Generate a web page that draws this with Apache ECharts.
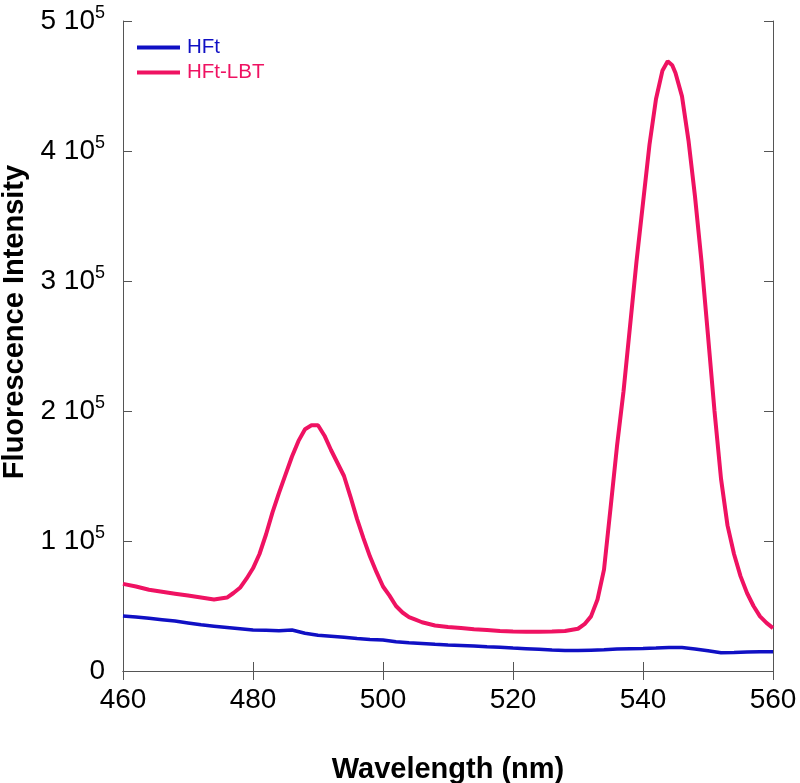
<!DOCTYPE html>
<html>
<head>
<meta charset="utf-8">
<script src="https://cdn.jsdelivr.net/npm/echarts@6/dist/echarts.min.js"></script>
<style>html,body{margin:0;padding:0;background:#fff;}#c{width:800px;height:783px;}</style>
</head>
<body>
<div id="c"></div>
<script>
const seriesNames = ['HFt', 'HFt-LBT'];
const xTicks = [460, 480, 500, 520, 540, 560];
const yTicks = [0, 100000, 200000, 300000, 400000, 500000];

const wlHFt = [460,462,464,466,468,470,472,474,476,478,480,482,484,486,488,490,492,494,496,498,500,502,504,506,508,510,512,514,516,518,520,522,524,526,528,530,532,534,536,538,540,542,544,546,548,550,552,554,556,558,560];
const valHFt = [42300,41500,40500,39500,38500,37000,35500,34500,33500,32500,31500,31300,31000,31500,29000,27500,26800,26000,25000,24300,23800,22500,21800,21200,20500,20000,19600,19200,18600,18200,17600,17200,16800,16200,15800,15700,16000,16300,17000,17200,17300,17600,18000,18000,17000,15500,14000,14300,14700,14800,14900];

const wlLBT = [460,462,464,466,468,470,472,474,476,477,478,479,480,481,482,483,484,485,486,487,488,489,490,491,492,493,494,495,496,497,498,499,500,501,502,503,504,505,506,508,510,512,514,516,518,520,522,524,526,528,530,531,532,533,534,535,536,537,538,539,540,541,542,543,543.8,544.5,545,546,547,548,549,550,551,552,553,554,555,556,557,558,559,560];
const valLBT = [67000,65000,62500,61000,59500,58000,56500,55000,56500,60000,64000,71000,79000,90000,105000,122000,137000,151000,165000,177000,186000,189000,189000,181000,170000,160000,150000,134000,117000,102000,88000,76000,65000,58000,50000,45000,41500,39500,37500,35000,33800,33000,32200,31500,30800,30300,30200,30200,30300,30800,32500,36000,42000,55000,78000,125000,173000,215000,265000,315000,360000,405000,440000,462000,469000,466000,460000,442000,408000,365000,315000,258000,200000,148000,112000,90000,73000,60000,50000,42000,37000,33000];

const colors = ['#1010c4', '#ef1262'];

function pairs(xs, ys) { return xs.map((x, i) => [x, ys[i]]); }

const chart = echarts.init(document.getElementById('c'), null, {renderer: 'canvas'});
const font = '"Liberation Sans", Arial, sans-serif';
const axisLine = {show: true, lineStyle: {color: '#555', width: 1}};
const tick = {show: true, inside: true, length: 9, lineStyle: {color: '#555', width: 1}};

chart.setOption({
  animation: false,
  backgroundColor: '#fff',
  grid: {left: 123, right: 27, top: 21, bottom: 112, containLabel: false, outerBoundsMode: 'none'},
  legend: {
    orient: 'vertical', left: 137, top: 37, padding: 0,
    itemWidth: 43, itemHeight: 4, itemGap: 4,
    icon: 'rect',
    textStyle: {fontFamily: font, fontSize: 20.5, padding: [0,0,0,2]},
    data: seriesNames.map((n, i) => ({name: n, textStyle: {color: colors[i]}}))
  },
  xAxis: [{
    type: 'value', min: xTicks[0], max: xTicks[xTicks.length - 1], interval: 20,
    axisLine, axisTick: tick, splitLine: {show: false},
    axisLabel: {fontFamily: font, fontSize: 28, color: '#000', margin: 15},
    name: 'Wavelength (nm)', nameLocation: 'middle', nameGap: 84,
    nameTextStyle: {fontFamily: font, fontSize: 29, fontWeight: 'bold', color: '#000'}
  }, {
    type: 'value', position: 'top', min: xTicks[0], max: xTicks[xTicks.length - 1], interval: 20,
    axisLine, axisTick: tick, axisLabel: {show: false}, splitLine: {show: false}
  }],
  yAxis: [{
    type: 'value', min: yTicks[0], max: yTicks[yTicks.length - 1], interval: 100000,
    axisLine, axisTick: tick, splitLine: {show: false},
    axisLabel: {
      margin: 18, color: '#000',
      formatter: v => v === 0 ? '{a|0}' : '{a|' + (v / 100000) + ' 10}{s|5}',
      rich: {
        a: {fontFamily: font, fontSize: 28, color: '#000'},
        s: {fontFamily: font, fontSize: 18, color: '#000', verticalAlign: 'bottom', padding: [0, 0, 16, 0]}
      }
    }
  }, {
    type: 'value', position: 'right', min: yTicks[0], max: yTicks[yTicks.length - 1], interval: 100000,
    axisLine, axisTick: tick, axisLabel: {show: false}, splitLine: {show: false}
  }],
  graphic: [{
    type: 'text', x: 15, y: 322, rotation: Math.PI / 2,
    style: {text: 'Fluorescence Intensity', font: 'bold 29px "Liberation Sans", Arial, sans-serif', fill: '#000', align: 'center', verticalAlign: 'middle'}
  }],
  series: [{
    name: seriesNames[0], type: 'line', symbol: 'none', data: pairs(wlHFt, valHFt),
    lineStyle: {color: colors[0], width: 3.5}, itemStyle: {color: colors[0]}
  }, {
    name: seriesNames[1], type: 'line', symbol: 'none', data: pairs(wlLBT, valLBT),
    lineStyle: {color: colors[1], width: 4}, itemStyle: {color: colors[1]}
  }]
});
</script>
</body>
</html>
